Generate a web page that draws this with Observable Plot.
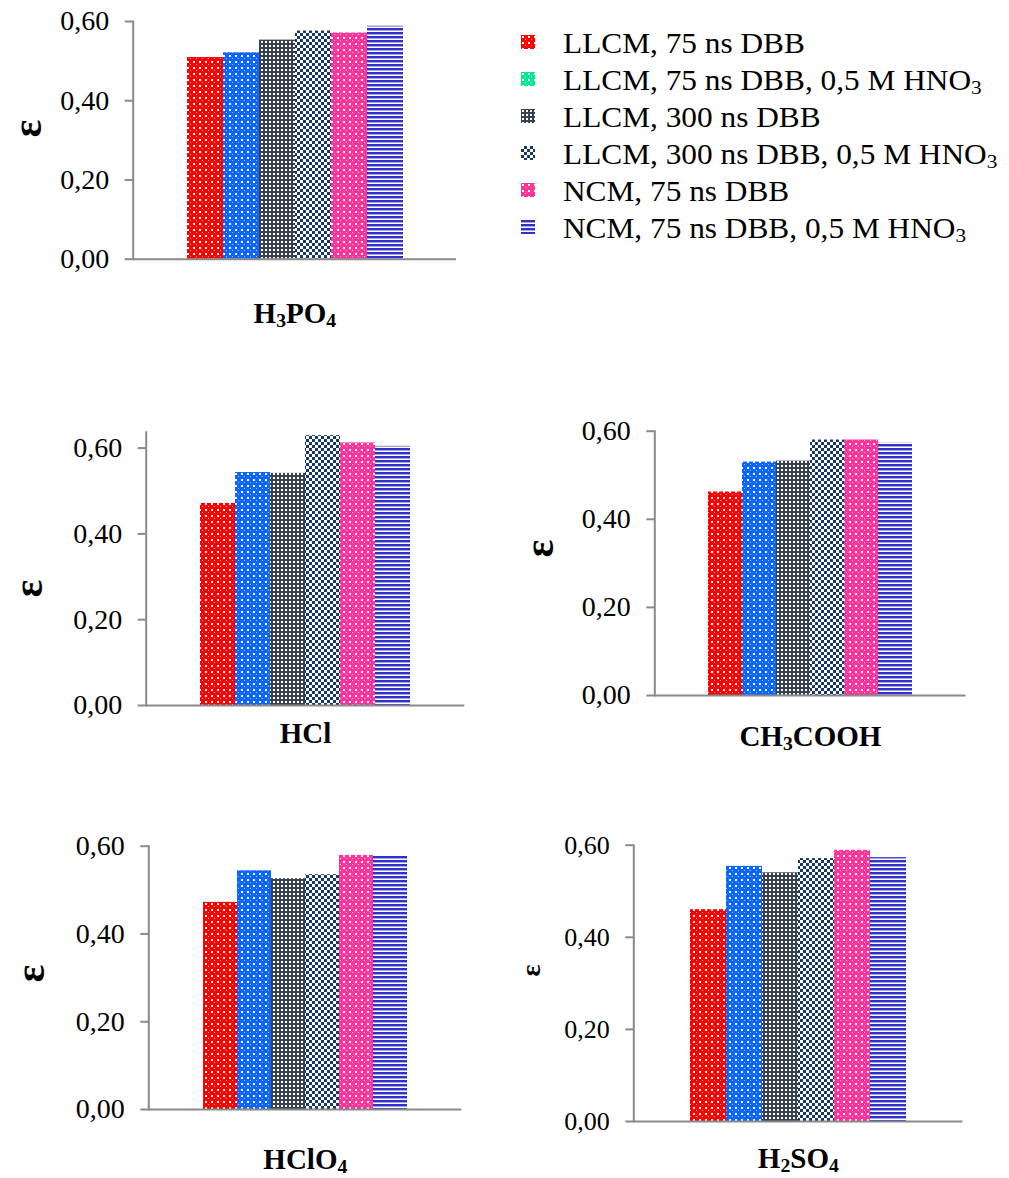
<!DOCTYPE html>
<html>
<head>
<meta charset="utf-8">
<script src="https://cdn.jsdelivr.net/npm/d3@7"></script>
<script src="https://cdn.jsdelivr.net/npm/@observablehq/plot@0.6"></script>
<style>
  body { margin: 0; background: #fff; }
  #root { position: relative; width: 1009px; height: 1178px; overflow: hidden;
          font-family: "Liberation Serif", "Times New Roman", serif; color: #000; }
  .panel { position: absolute; }
  .legend-row { position: absolute; left: 0; height: 37px; line-height: 37px; font-size: 29px; white-space: nowrap; }
  .legend-row svg { position: absolute; }
  .legend-row span { position: absolute; left: 563px; top: 0; transform: scaleX(1.08); transform-origin: 0 50%; }
  sub { font-size: 0.68em; vertical-align: -0.22em; line-height: 0; }
</style>
</head>
<body>
<svg width="0" height="0" style="position:absolute">
  <defs>
    <pattern id="pRed" width="6" height="6" patternUnits="userSpaceOnUse">
      <rect width="6" height="6" fill="#ff0000"/>
      <rect x="1" y="1" width="2" height="2" fill="#ffffff"/>
      <rect x="4" y="4" width="1" height="1" fill="#ffb0b0"/>
    </pattern>
    <pattern id="pBlue" width="6" height="6" patternUnits="userSpaceOnUse">
      <rect width="6" height="6" fill="#0a66ff"/>
      <rect x="1" y="1" width="2" height="2" fill="#ffffff"/>
      <rect x="4" y="4" width="1" height="1" fill="#9ec3ff"/>
    </pattern>
    <pattern id="pTeal" width="6" height="6" patternUnits="userSpaceOnUse">
      <rect width="6" height="6" fill="#00e890"/>
      <rect x="1" y="1" width="2" height="2" fill="#ffffff"/>
      <rect x="4" y="4" width="1" height="1" fill="#9ff5d2"/>
    </pattern>
    <pattern id="pDark" width="4" height="4" patternUnits="userSpaceOnUse">
      <rect width="4" height="4" fill="#384152"/>
      <rect x="1" y="1" width="2" height="2" fill="#ffffff"/>
    </pattern>
    <pattern id="pNavy" width="6" height="6" patternUnits="userSpaceOnUse">
      <rect width="6" height="6" fill="#1a3865"/>
      <rect x="0" y="0" width="3" height="3" fill="#ffffff"/>
      <rect x="3" y="3" width="3" height="3" fill="#ffffff"/>
    </pattern>
    <pattern id="pPink" width="6" height="6" patternUnits="userSpaceOnUse">
      <rect width="6" height="6" fill="#ff3399"/>
      <rect x="1" y="1" width="2" height="2" fill="#ffffff"/>
      <rect x="4" y="4" width="1" height="1" fill="#ffc2e0"/>
    </pattern>
    <pattern id="pStripe" width="4" height="4" patternUnits="userSpaceOnUse">
      <rect width="4" height="4" fill="#ffffff"/>
      <rect x="0" y="0" width="4" height="2" fill="#3030cc"/>
      <rect x="0" y="2" width="4" height="1" fill="#a3a3e8"/>
    </pattern>
  </defs>
</svg>
<div id="root"></div>
<script>
// ---------- data ----------
const series = [
  "LLCM, 75 ns DBB",
  "LLCM, 75 ns DBB, 0,5 M HNO3",
  "LLCM, 300 ns DBB",
  "LLCM, 300 ns DBB, 0,5 M HNO3",
  "NCM, 75 ns DBB",
  "NCM, 75 ns DBB, 0,5 M HNO3"
];
const acids = ["H3PO4", "HCl", "CH3COOH", "HClO4", "H2SO4"];
const valuesH3PO4   = [0.509, 0.521, 0.553, 0.576, 0.571, 0.588];
const valuesHCl     = [0.471, 0.543, 0.541, 0.629, 0.612, 0.604];
const valuesCH3COOH = [0.462, 0.530, 0.532, 0.580, 0.580, 0.573];
const valuesHClO4   = [0.472, 0.544, 0.526, 0.535, 0.579, 0.578];
const valuesH2SO4   = [0.460, 0.554, 0.540, 0.571, 0.589, 0.573];
const yTicks = [0, 0.2, 0.4, 0.6];
const yTickLabels = ["0,00", "0,20", "0,40", "0,60"];
const axisTitle = "ε";

const valuesByAcid = {
  H3PO4: valuesH3PO4, HCl: valuesHCl, CH3COOH: valuesCH3COOH,
  HClO4: valuesHClO4, H2SO4: valuesH2SO4
};

// ---------- styles ----------
const barPatterns = ["pRed", "pBlue", "pDark", "pNavy", "pPink", "pStripe"];
const legendPatterns = ["pRed", "pTeal", "pDark", "pNavy", "pPink", "pStripe"];
const axisGray = "#8a8a8a";

// ---------- layout (page coordinates) ----------
const layout = {
  H3PO4:   {left: 0,   top: 0,   width: 470, height: 345, axisX: 132.7, barsL: 186,   barsR: 403,   rightEnd: 456,   yTop: 21,    yZero: 258.7, yMax: 0.6,   labelY: 322,   epsX: 27,  epsY: 128, epsSize: 42, tickFont: 28},
  HCl:     {left: 0,   top: 400, width: 480, height: 360, axisX: 145.7, barsL: 199,   barsR: 410.7, rightEnd: 464.3, yTop: 431.7, yZero: 705,   yMax: 0.637, labelY: 742,   epsX: 28,  epsY: 588, epsSize: 42, tickFont: 28},
  CH3COOH: {left: 500, top: 400, width: 480, height: 360, axisX: 654.3, barsL: 705.7, barsR: 914,   rightEnd: 965.5, yTop: 430.7, yZero: 695,   yMax: 0.6,   labelY: 745,   epsX: 539, epsY: 548, epsSize: 42, tickFont: 28},
  HClO4:   {left: 0,   top: 800, width: 480, height: 378, axisX: 148.3, barsL: 200,   barsR: 409.7, rightEnd: 461.4, yTop: 845.7, yZero: 1109,  yMax: 0.6,   labelY: 1168,  epsX: 30,  epsY: 973, epsSize: 42, tickFont: 28},
  H2SO4:   {left: 500, top: 800, width: 480, height: 378, axisX: 633.3, barsL: 688,   barsR: 907.7, rightEnd: 962.4, yTop: 844.7, yZero: 1121,  yMax: 0.6,   labelY: 1167,  epsX: 531, epsY: 970, epsSize: 28, tickFont: 26}
};

const root = document.getElementById("root");
const SVGNS = "http://www.w3.org/2000/svg";

function subscriptSvg(textEl, size) {
  const s = textEl.textContent;
  while (textEl.firstChild) textEl.removeChild(textEl.firstChild);
  const parts = s.match(/\d+|\D+/g);
  let shifted = false;
  const shift = size * 0.16;
  for (const p of parts) {
    const t = document.createElementNS(SVGNS, "tspan");
    if (/^\d+$/.test(p)) {
      t.setAttribute("font-size", size * 0.68);
      t.setAttribute("dy", shift);
      shifted = true;
    } else if (shifted) {
      t.setAttribute("dy", -shift);
      shifted = false;
    }
    t.textContent = p;
    textEl.appendChild(t);
  }
}

for (const acid of acids) {
  const L = layout[acid];
  const rows = series.map((s, i) => ({series: s, value: valuesByAcid[acid][i], pattern: `url(#${barPatterns[i]})`}));
  const marginLeft = L.axisX - L.left;
  const marginRight = L.width - (L.rightEnd - L.left);
  const marginTop = L.yTop - L.top;
  const marginBottom = L.height - (L.yZero - L.top);
  const labelFont = 29;
  const frameMid = (L.yTop + L.yZero) / 2;

  const svg = Plot.plot({
    width: L.width,
    height: L.height,
    marginLeft, marginRight, marginTop, marginBottom,
    style: {fontFamily: '"Liberation Serif", "Times New Roman", serif', fontSize: L.tickFont + "px", color: "#000", background: "transparent", overflow: "visible"},
    x: {type: "band", domain: series, range: [L.barsL - L.left, L.barsR - L.left], padding: 0, axis: null},
    y: {domain: [0, L.yMax], axis: null},
    color: {type: "identity"},
    marks: [
      Plot.barY(rows, {x: "series", y: "value", fill: "pattern", inset: 0}),
      Plot.frame({anchor: "left", stroke: axisGray, strokeWidth: 2}),
      Plot.ruleY([0], {stroke: axisGray, strokeWidth: 2}),
      Plot.axisY({ticks: yTicks, tickFormat: d => yTickLabels[yTicks.indexOf(d)], tickSize: 8, tickPadding: 16,
                  fontSize: L.tickFont, stroke: axisGray, strokeWidth: 2, color: "#000", fill: "#000", label: null}),
      Plot.text([axisTitle], {text: d => d, frameAnchor: "left", textAnchor: "middle", lineAnchor: "middle", rotate: -90,
                  dx: L.epsX - L.axisX, dy: L.epsY - frameMid, fontSize: L.epsSize, fontWeight: "bold", fill: "#000"}),
      Plot.text([acid], {text: d => d, frameAnchor: "bottom", textAnchor: "middle", lineAnchor: "middle",
                  dy: L.labelY - 0.32 * labelFont - L.yZero, fontSize: labelFont, fontWeight: "bold", fill: "#000"})
    ]
  });
  d3.select(svg).selectAll("text").filter(function() { return this.textContent === acid; })
    .each(function() { subscriptSvg(this, labelFont); });

  const div = document.createElement("div");
  div.className = "panel";
  div.style.left = L.left + "px";
  div.style.top = L.top + "px";
  div.style.width = L.width + "px";
  div.style.height = L.height + "px";
  div.appendChild(svg);
  root.appendChild(div);
}

// ---------- legend ----------
const legendBaseline0 = 53.3;
const legendStep = 37;
series.forEach((s, i) => {
  const row = document.createElement("div");
  row.className = "legend-row";
  const rowTop = legendBaseline0 + i * legendStep - 28.4;
  row.style.top = rowTop + "px";
  row.style.width = "1009px";
  const sw = document.createElementNS(SVGNS, "svg");
  sw.setAttribute("width", 14);
  sw.setAttribute("height", 14);
  sw.style.left = "521px";
  sw.style.top = "10px";
  const r = document.createElementNS(SVGNS, "rect");
  r.setAttribute("width", 14);
  r.setAttribute("height", 14);
  r.setAttribute("fill", `url(#${legendPatterns[i]})`);
  sw.appendChild(r);
  row.appendChild(sw);
  const span = document.createElement("span");
  span.innerHTML = s.replace(/HNO3$/, "HNO<sub>3</sub>");
  row.appendChild(span);
  root.appendChild(row);
});
</script>
</body>
</html>
